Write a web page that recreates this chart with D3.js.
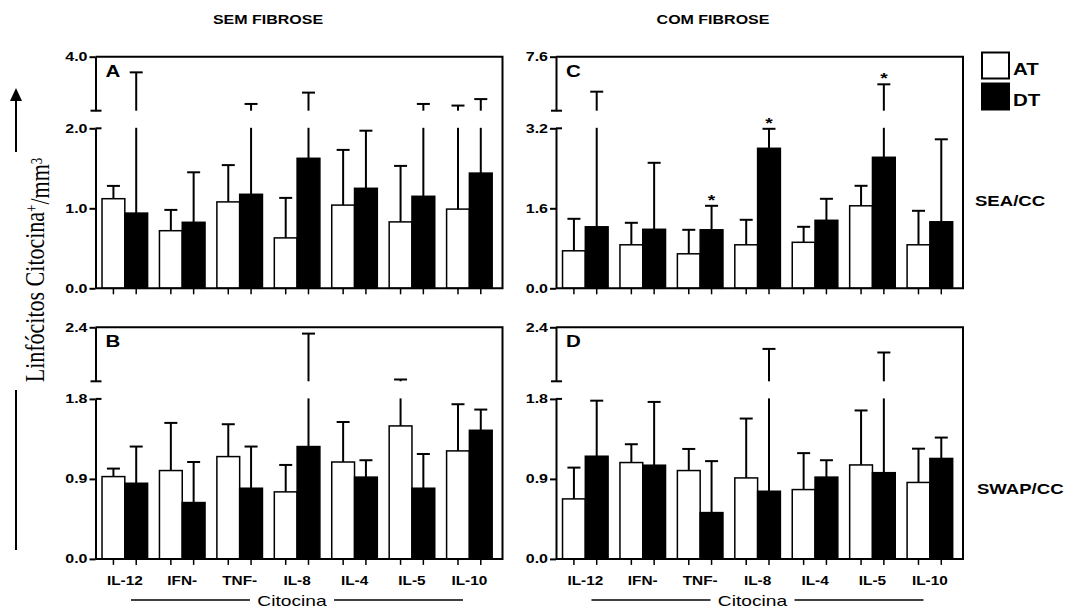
<!DOCTYPE html>
<html><head><meta charset="utf-8">
<script src="https://cdn.jsdelivr.net/npm/d3@7"></script>
<style>body{margin:0;background:#fff} svg{display:block}</style>
</head><body>
<svg id="chart" width="1068" height="611"></svg>
<script>
// ---------- data ----------
const categories = ["IL-12", "IFN-", "TNF-", "IL-8", "IL-4", "IL-5", "IL-10"];
const seriesNames = ["AT", "DT"];

// Panel A — SEM FIBROSE, SEA/CC (mean, mean+error)
const atA      = [1.12, 0.72, 1.08, 0.63, 1.04, 0.83, 0.99];
const atAUpper = [1.28, 0.98, 1.54, 1.13, 1.73, 1.53, 2.19];
const dtA      = [0.94, 0.825, 1.175, 1.625, 1.25, 1.15, 1.44];
const dtAUpper = [3.42, 1.45, 2.25, 2.67, 1.97, 2.25, 2.43];

// Panel C — COM FIBROSE, SEA/CC
const atC      = [0.75, 0.87, 0.69, 0.87, 0.92, 1.65, 0.87];
const atCUpper = [1.39, 1.31, 1.17, 1.37, 1.23, 2.05, 1.55];
const dtC      = [1.23, 1.18, 1.17, 2.80, 1.36, 2.62, 1.33];
const dtCUpper = [4.75, 2.51, 1.65, 3.19, 1.79, 5.35, 2.98];
const sigC     = ["TNF-", "IL-8", "IL-5"];

// Panel B — SEM FIBROSE, SWAP/CC
const atB      = [0.926, 0.994, 1.151, 0.754, 1.09, 1.496, 1.215];
const atBUpper = [1.016, 1.53, 1.515, 1.057, 1.54, 1.82, 1.74];
const dtB      = [0.851, 0.634, 0.795, 1.264, 0.92, 0.795, 1.447];
const dtBUpper = [1.264, 1.09, 1.264, 2.33, 1.11, 1.18, 1.68];

// Panel D — COM FIBROSE, SWAP/CC
const atD      = [0.675, 1.084, 0.994, 0.911, 0.78, 1.057, 0.86];
const atDUpper = [1.027, 1.29, 1.237, 1.579, 1.19, 1.67, 1.24];
const dtD      = [1.155, 1.054, 0.521, 0.761, 0.92, 0.97, 1.13];
const dtDUpper = [1.78, 1.766, 1.10, 2.16, 1.11, 2.12, 1.365];

// axis ticks (lower segment ticks, top of broken axis)
const ticksA = [0, 1.0, 2.0], topA = 4.0;
const ticksC = [0, 1.6, 3.2], topC = 7.6;
const ticksB = [0, 0.9, 1.8], topB = 2.4;
const ticksD = [0, 0.9, 1.8], topD = 2.4;

const colTitles = ["SEM FIBROSE", "COM FIBROSE"];
const rowLabels = ["SEA/CC", "SWAP/CC"];
const panelLetters = ["A", "C", "B", "D"];
const xTitle = "Citocina";

// ---------- layout ----------
const SX = 1.28;                 // horizontal stretch of the original picture
const FONT = "'Liberation Sans', Arial, Helvetica, sans-serif";
const colLeft = [95.5, 556];
const rowTop = [56.7, 327.3];
const panelW = 407, upperH = 54, gapH = 17.6, lowerH = 160;

const svg = d3.select("#chart");

function stext(parent, x, y, str, size, anchor, weight) {
  const g = parent.append("g").attr("transform", `translate(${x},${y}) scale(${SX},1)`);
  return g.append("text")
    .attr("text-anchor", anchor || "start")
    .style("font-family", FONT)
    .style("font-size", size + "px")
    .style("font-weight", weight || "bold")
    .attr("fill", "#000")
    .text(str);
}

function drawPanel(p) {
  const left = colLeft[p.col], top = rowTop[p.row];
  const upperBottom = top + upperH;
  const zeroY = upperBottom + gapH + lowerH;
  const lowMax = p.ticks[p.ticks.length - 1];
  const yLow = d3.scaleLinear().domain([0, lowMax]).range([zeroY, zeroY - lowerH]);
  const yHigh = d3.scaleLinear().domain([lowMax, p.top]).range([upperBottom, top]);
  const y = v => v <= lowMax ? yLow(v) : yHigh(v);

  const x0 = d3.scaleBand().domain(categories).range([left + 0.6, left + 0.6 + 402]).padding(0);
  const x1 = d3.scaleBand().domain(seriesNames).range([0, x0.bandwidth()]).paddingOuter(0.26).paddingInner(0);

  const g = svg.append("g");
  const rows = categories.map((c, i) => ({
    cat: c,
    vals: [
      { s: "AT", v: p.at[i], up: p.atUp[i] },
      { s: "DT", v: p.dt[i], up: p.dtUp[i] }
    ]
  }));
  const flat = rows.flatMap(r => r.vals.map(d => Object.assign({ cat: r.cat }, d)));
  const cx = d => x0(d.cat) + x1(d.s) + x1.bandwidth() / 2;

  // bars
  g.selectAll("rect.bar").data(flat).join("rect")
    .attr("class", "bar")
    .attr("x", d => x0(d.cat) + x1(d.s))
    .attr("y", d => y(d.v))
    .attr("width", x1.bandwidth())
    .attr("height", d => zeroY - y(d.v))
    .attr("fill", d => d.s === "AT" ? "#fff" : "#000")
    .attr("stroke", "#000")
    .attr("stroke-width", 1.5);

  // error bars (upper only, broken across the axis gap)
  const eb = g.append("g").attr("stroke", "#000").attr("stroke-width", 2).attr("fill", "none");
  flat.forEach(d => {
    const xc = cx(d);
    if (d.up <= lowMax) {
      eb.append("line").attr("x1", xc).attr("x2", xc).attr("y1", y(d.v)).attr("y2", yLow(d.up));
    } else {
      eb.append("line").attr("x1", xc).attr("x2", xc).attr("y1", y(d.v)).attr("y2", yLow(lowMax) - 0.5);
      eb.append("line").attr("x1", xc).attr("x2", xc).attr("y1", yHigh(lowMax)).attr("y2", yHigh(d.up));
    }
    eb.append("line").attr("x1", xc - 6.5).attr("x2", xc + 6.5).attr("y1", y(d.up)).attr("y2", y(d.up));
  });

  // significance
  if (p.sig) {
    flat.filter(d => d.s === "DT" && p.sig.includes(d.cat)).forEach(d => {
      stext(g, cx(d), y(d.up) - 1, "*", 15, "middle");
    });
  }

  // frame (top + right + bottom)
  const fr = g.append("g").attr("stroke", "#000").attr("stroke-width", 2).attr("fill", "none");
  fr.append("path").attr("d", `M${left},${top}H${left + panelW}V${zeroY}H${left}`);
  // bottom ticks at bar centres
  fr.selectAll("line.xt").data(flat).join("line").attr("class", "xt")
    .attr("x1", cx).attr("x2", cx).attr("y1", zeroY).attr("y2", zeroY + 6)
    .attr("stroke-width", 1.5);

  // broken y axis
  const axLow = d3.axisLeft(yLow).tickValues(p.ticks).tickSize(6).tickSizeOuter(0).tickPadding(1)
    .tickFormat(d3.format(".1f"));
  const axHigh = d3.axisLeft(yHigh).tickValues([p.top]).tickSize(6).tickSizeOuter(0).tickPadding(1)
    .tickFormat(d3.format(".1f"));
  [axLow, axHigh].forEach(ax => {
    const a = g.append("g").attr("transform", `translate(${left},0)`).call(ax);
    a.select(".domain").attr("stroke-width", 2);
    a.selectAll(".tick line").attr("stroke-width", 2);
    a.selectAll(".tick text")
      .attr("x", -8 / SX).attr("transform", `scale(${SX},1)`)
      .style("font-family", FONT).style("font-size", "12.5px").style("font-weight", "bold")
      .attr("fill", "#000");
  });
  // segment ends of the break
  fr.append("line").attr("x1", left - 5).attr("x2", left + 6).attr("y1", yHigh(lowMax)).attr("y2", yHigh(lowMax));
  fr.append("line").attr("x1", left).attr("x2", left + 6).attr("y1", yLow(lowMax)).attr("y2", yLow(lowMax));

  // panel letter
  stext(g, left + 10, top + 20, p.letter, 16, "start");

  // category labels + axis title on bottom row
  if (p.row === 1) {
    categories.forEach(c => stext(g, x0(c) + x0.bandwidth() / 2, 585, c, 12, "middle"));
    const tc = left + 196.5;
    stext(g, tc, 606, xTitle, 15, "middle", "normal");
    fr.append("line").attr("x1", left + 35.5).attr("x2", left + 154.5).attr("y1", 600).attr("y2", 600).attr("stroke-width", 1.5);
    fr.append("line").attr("x1", left + 238.5).attr("x2", left + 367.5).attr("y1", 600).attr("y2", 600).attr("stroke-width", 1.5);
  }
}

drawPanel({ col: 0, row: 0, letter: panelLetters[0], at: atA, atUp: atAUpper, dt: dtA, dtUp: dtAUpper, ticks: ticksA, top: topA });
drawPanel({ col: 1, row: 0, letter: panelLetters[1], at: atC, atUp: atCUpper, dt: dtC, dtUp: dtCUpper, ticks: ticksC, top: topC, sig: sigC });
drawPanel({ col: 0, row: 1, letter: panelLetters[2], at: atB, atUp: atBUpper, dt: dtB, dtUp: dtBUpper, ticks: ticksB, top: topB });
drawPanel({ col: 1, row: 1, letter: panelLetters[3], at: atD, atUp: atDUpper, dt: dtD, dtUp: dtDUpper, ticks: ticksD, top: topD });

// column titles
stext(svg, 268, 24, colTitles[0], 12.5, "middle");
stext(svg, 713, 24, colTitles[1], 12.5, "middle");

// row labels
stext(svg, 975, 206, rowLabels[0], 14.5, "start");
stext(svg, 977, 494, rowLabels[1], 14.5, "start");

// legend
const lg = svg.append("g");
seriesNames.forEach((s, i) => {
  lg.append("rect").attr("x", 982).attr("y", 52.5 + i * 31).attr("width", 27).attr("height", 26)
    .attr("fill", s === "AT" ? "#fff" : "#000").attr("stroke", "#000").attr("stroke-width", 2);
  stext(lg, 1013, 75 + i * 30.5, s, 16, "start");
});

// y-axis title with arrow
const ya = svg.append("g").attr("stroke", "#000").attr("stroke-width", 2);
ya.append("line").attr("x1", 16).attr("x2", 16).attr("y1", 152).attr("y2", 99);
ya.append("path").attr("d", "M16,88L10,101L22,101Z").attr("fill", "#000").attr("stroke", "none");
ya.append("line").attr("x1", 16).attr("x2", 16).attr("y1", 390).attr("y2", 550);

const yt = svg.append("g").attr("transform", "translate(44,270) rotate(-90) scale(1,1.28)")
  .append("text").attr("text-anchor", "middle")
  .style("font-family", "'Liberation Serif', 'Times New Roman', serif").style("font-size", "22px")
  .attr("fill", "#000");
yt.append("tspan").text("Linfócitos Citocina");
yt.append("tspan").attr("dy", "-0.45em").style("font-size", "13px").text("+");
yt.append("tspan").attr("dy", "0.45em").text("/mm");
yt.append("tspan").attr("dy", "-0.45em").style("font-size", "13px").text("3");
</script>
</body></html>
